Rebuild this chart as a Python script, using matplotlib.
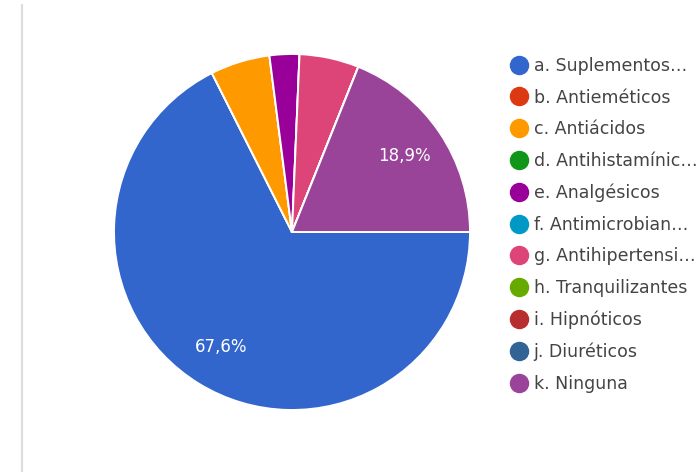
import matplotlib
matplotlib.use("Agg")
import matplotlib.pyplot as plt
from matplotlib.lines import Line2D

plt.rcParams['font.family'] = ['DejaVu Sans']

categories = [
    "a. Suplementos…", "b. Antieméticos", "c. Antiácidos", "d. Antihistamínic…",
    "e. Analgésicos", "f. Antimicrobian…", "g. Antihipertensi…", "h. Tranquilizantes",
    "i. Hipnóticos", "j. Diuréticos", "k. Ninguna",
]
counts = [25, 0, 2, 0, 1, 0, 2, 0, 0, 0, 7]
colors = ["#3366cc", "#dc3912", "#ff9900", "#109618", "#990099", "#0099c6",
          "#dd4477", "#66aa00", "#b82e2e", "#316395", "#994499"]

W, H = 700, 472
fig = plt.figure(figsize=(W / 100, H / 100), dpi=100)
fig.patch.set_facecolor("white")

# thin separator on the left edge
fig.add_artist(Line2D([22 / W, 22 / W], [0, 1 - 5 / H], color="#dddddd", lw=1.6))

cx, cy, r = 292, 232, 178
ax = fig.add_axes([(cx - r) / W, 1 - (cy + r) / H, 2 * r / W, 2 * r / H])
ax.axis("off")

def fmt(p):
    return (f"{p:.1f}%".replace(".", ",")) if p >= 10 else ""

wedges, texts, autotexts = ax.pie(
    counts, colors=colors, startangle=0, counterclock=False, radius=1,
    autopct=fmt, pctdistance=0.76,
    wedgeprops=dict(edgecolor="white", linewidth=1.4),
    textprops=dict(color="white", fontsize=12),
)
ax.set_xlim(-1, 1)
ax.set_ylim(-1, 1)
ax.set_aspect("equal")

handles = [Line2D([], [], marker="o", linestyle="none", markersize=13,
                  markerfacecolor=c, markeredgecolor=c) for c in colors]
fig.legend(handles, categories, loc="upper left",
           bbox_to_anchor=(505 / W, 1 - 50 / H), frameon=False,
           fontsize=12.5, labelcolor="#444444", handletextpad=0.45,
           labelspacing=0.785, borderaxespad=0, handlelength=0.8)

fig.savefig("out.png", dpi=100, facecolor="white")
